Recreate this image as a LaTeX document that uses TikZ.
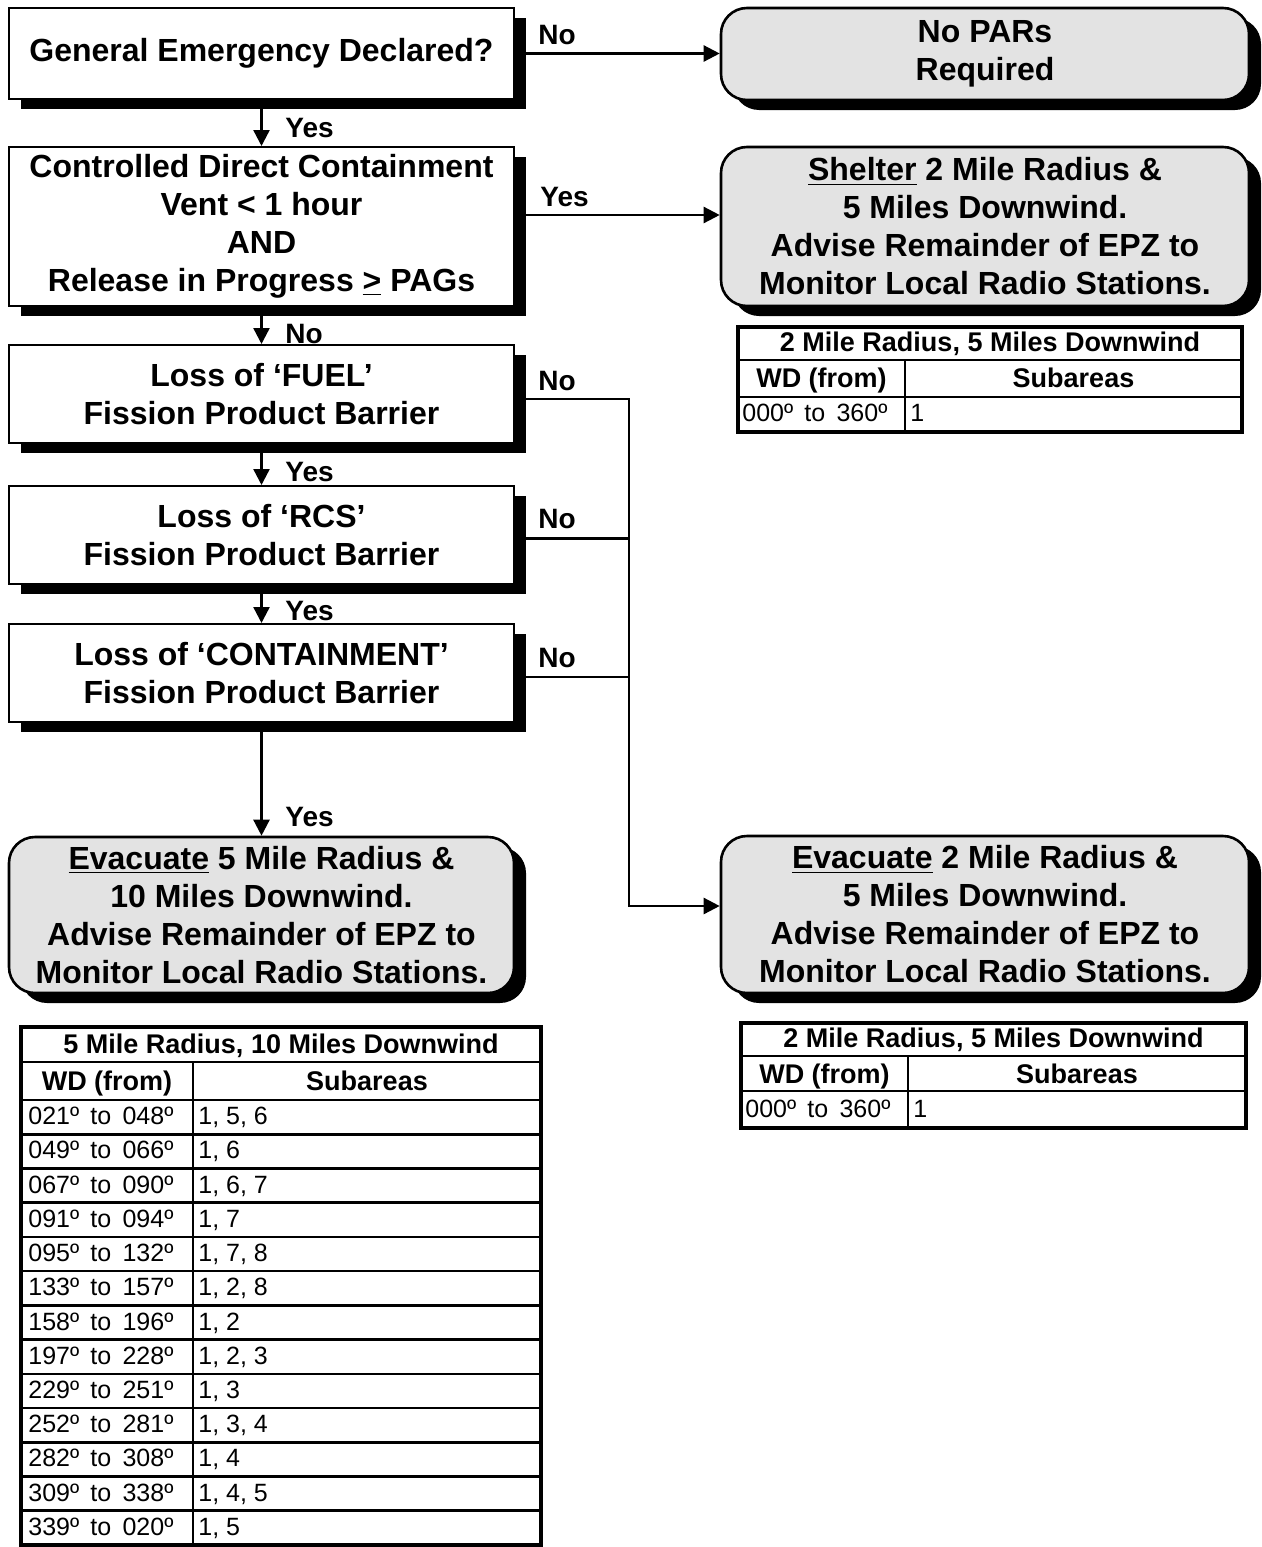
\documentclass[tikz,border=0pt]{standalone}
\usepackage{fontspec}
\setmainfont{Liberation Sans}
\usetikzlibrary{arrows.meta,shadows,calc}
\newcommand\wdr[2]{#1º\hspace{0.45em}to\hspace{0.45em}#2º}
\begin{document}
\begin{tikzpicture}[x=0.5pt,y=-0.5pt,
  shd/.style={drop shadow={shadow xshift=6pt,shadow yshift=-5pt,fill=black,opacity=1}},
  qbox/.style={draw,line width=1pt,fill=white,inner sep=0pt,align=center,
    minimum width=252.5pt,shd,font=\fontsize{16}{19}\selectfont\bfseries},
  rbox/.style={draw,line width=1.3pt,fill=black!11,rounded corners=13pt,inner sep=0pt,
    align=center,minimum width=264pt,shd,font=\fontsize{16}{19}\selectfont\bfseries},
  conn/.style={line width=1.2pt,-{Triangle[length=8pt,width=8pt]}},
  plain/.style={line width=1.2pt},
  lab/.style={anchor=west,inner sep=0pt,font=\fontsize{14}{16}\selectfont\bfseries},
  ttl/.style={anchor=base,inner sep=0pt,font=\fontsize{13.5}{15}\selectfont\bfseries},
  cell/.style={anchor=base west,inner sep=0pt,font=\fontsize{12.5}{14}\selectfont},
  tline/.style={line width=1.3pt},
  tframe/.style={line width=1.7pt}
]
\fill[white] (0,0) rectangle (1262,1547);
\useasboundingbox (0,0) rectangle (1262,1547);

% left column boxes
\node[qbox,minimum height=45.5pt] (b1) at (261.5,53.5) {General Emergency Declared?};
\node[qbox,minimum height=79.5pt] (b2) at (261.5,226.5)
  {Controlled Direct Containment\\Vent < 1 hour\\AND\\Release in Progress \underline{>} PAGs};
\node[qbox,minimum height=49pt] (b3) at (261.5,394) {Loss of ‘FUEL’\\Fission Product Barrier};
\node[qbox,minimum height=49pt] (b4) at (261.5,535) {Loss of ‘RCS’\\Fission Product Barrier};
\node[qbox,minimum height=49pt] (b5) at (261.5,673) {Loss of ‘CONTAINMENT’\\Fission Product Barrier};
\node[rbox,minimum width=252.5pt,minimum height=78pt] (e5) at (261.5,915)
  {\underline{Evacuate} 5 Mile Radius \&\\10 Miles Downwind.\\Advise Remainder of EPZ to\\Monitor Local Radio Stations.};

% right column boxes
\node[rbox,minimum height=46pt] (np) at (985,54) {No PARs\\Required};
\node[rbox,minimum height=79.5pt] (sh) at (985,226.5)
  {\underline{Shelter} 2 Mile Radius \&\\5 Miles Downwind.\\Advise Remainder of EPZ to\\Monitor Local Radio Stations.};
\node[rbox,minimum height=78.5pt] (e2) at (985,914.5)
  {\underline{Evacuate} 2 Mile Radius \&\\5 Miles Downwind.\\Advise Remainder of EPZ to\\Monitor Local Radio Stations.};

% connectors
\coordinate (bus) at (629,0);
\draw[conn] (b1.east) -- (b1.east -| np.west);
\draw[conn] ([yshift=5.75pt]b2.east) -- ([yshift=5.75pt]b2.east -| sh.west);
\draw[conn] (b1.south) -- (b2.north);
\draw[conn] (b2.south) -- (b3.north);
\draw[conn] (b3.south) -- (b4.north);
\draw[conn] (b4.south) -- (b5.north);
\draw[conn] (b5.south) -- (e5.north);
\draw[conn] ([yshift=-2.5pt]b3.east) -| ([yshift=4.25pt]e2.west -| bus) -- ([yshift=4.25pt]e2.west);
\draw[plain] ([yshift=-1.75pt]b4.east) -- ([yshift=-1.75pt]b4.east -| bus);
\draw[plain] ([yshift=-2pt]b5.east) -- ([yshift=-2pt]b5.east -| bus);

% labels
\node[lab] (l1) at (538,35) {No};
\node[lab] (l2) at (540,197) {Yes};
\node[lab] (l3) at (538,381) {No};
\node[lab] (l4) at (538,519) {No};
\node[lab] (l5) at (538,658) {No};
\node[lab] (y1) at (285,128) {Yes};
\node[lab] (y2) at (285,334) {No};
\node[lab] (y3) at (285,472) {Yes};
\node[lab] (y4) at (285,611) {Yes};
\node[lab] (y5) at (285,817) {Yes};

% upper right table
\draw[tline] (738,360) -- (1242,360) (738,397) -- (1242,397) (905,360) -- (905,432);
\draw[tframe] (738,327) rectangle (1242,432);
\node[ttl] (t1t) at (990,351) {2 Mile Radius, 5 Miles Downwind};
\node[ttl] (t1h1) at (821.5,387) {WD (from)};
\node[ttl] (t1h2) at (1073.5,387) {Subareas};
\node[cell] (t1a) at (742,421) {\wdr{000}{360}};
\node[cell] (t1b) at (910,421) {1};

% lower right table
\draw[tline] (741,1056) -- (1246,1056) (741,1091) -- (1246,1091) (908,1056) -- (908,1128);
\draw[tframe] (741,1023) rectangle (1246,1128);
\node[ttl] (t2t) at (993.5,1047) {2 Mile Radius, 5 Miles Downwind};
\node[ttl] (t2h1) at (824.5,1083) {WD (from)};
\node[ttl] (t2h2) at (1077,1083) {Subareas};
\node[cell] (t2a) at (745,1117) {\wdr{000}{360}};
\node[cell] (t2b) at (913,1117) {1};

% large table
\draw[tline] (21,1062) -- (541,1062) (21,1100) -- (541,1100) (193,1062) -- (193,1545);
\foreach \i in {1,...,12} \draw[tline] (21,{1100+\i*34.23}) -- (541,{1100+\i*34.23});
\draw[tframe] (21,1027) rectangle (541,1545);
\node[ttl] (t3t) at (281,1053) {5 Mile Radius, 10 Miles Downwind};
\node[ttl] (t3h1) at (107,1090) {WD (from)};
\node[ttl] (t3h2) at (367,1090) {Subareas};
\foreach \a/\b/\s [count=\i] in {021/048/{1, 5, 6},049/066/{1, 6},067/090/{1, 6, 7},091/094/{1, 7},
  095/132/{1, 7, 8},133/157/{1, 2, 8},158/196/{1, 2},197/228/{1, 2, 3},229/251/{1, 3},
  252/281/{1, 3, 4},282/308/{1, 4},309/338/{1, 4, 5},339/020/{1, 5}}{
  \node[cell] (r\i a) at (28,{1100+(\i-0.5)*34.23+7.5}) {\wdr{\a}{\b}};
  \node[cell] (r\i b) at (198,{1100+(\i-0.5)*34.23+7.5}) {\s};
}
\end{tikzpicture}
\end{document}
